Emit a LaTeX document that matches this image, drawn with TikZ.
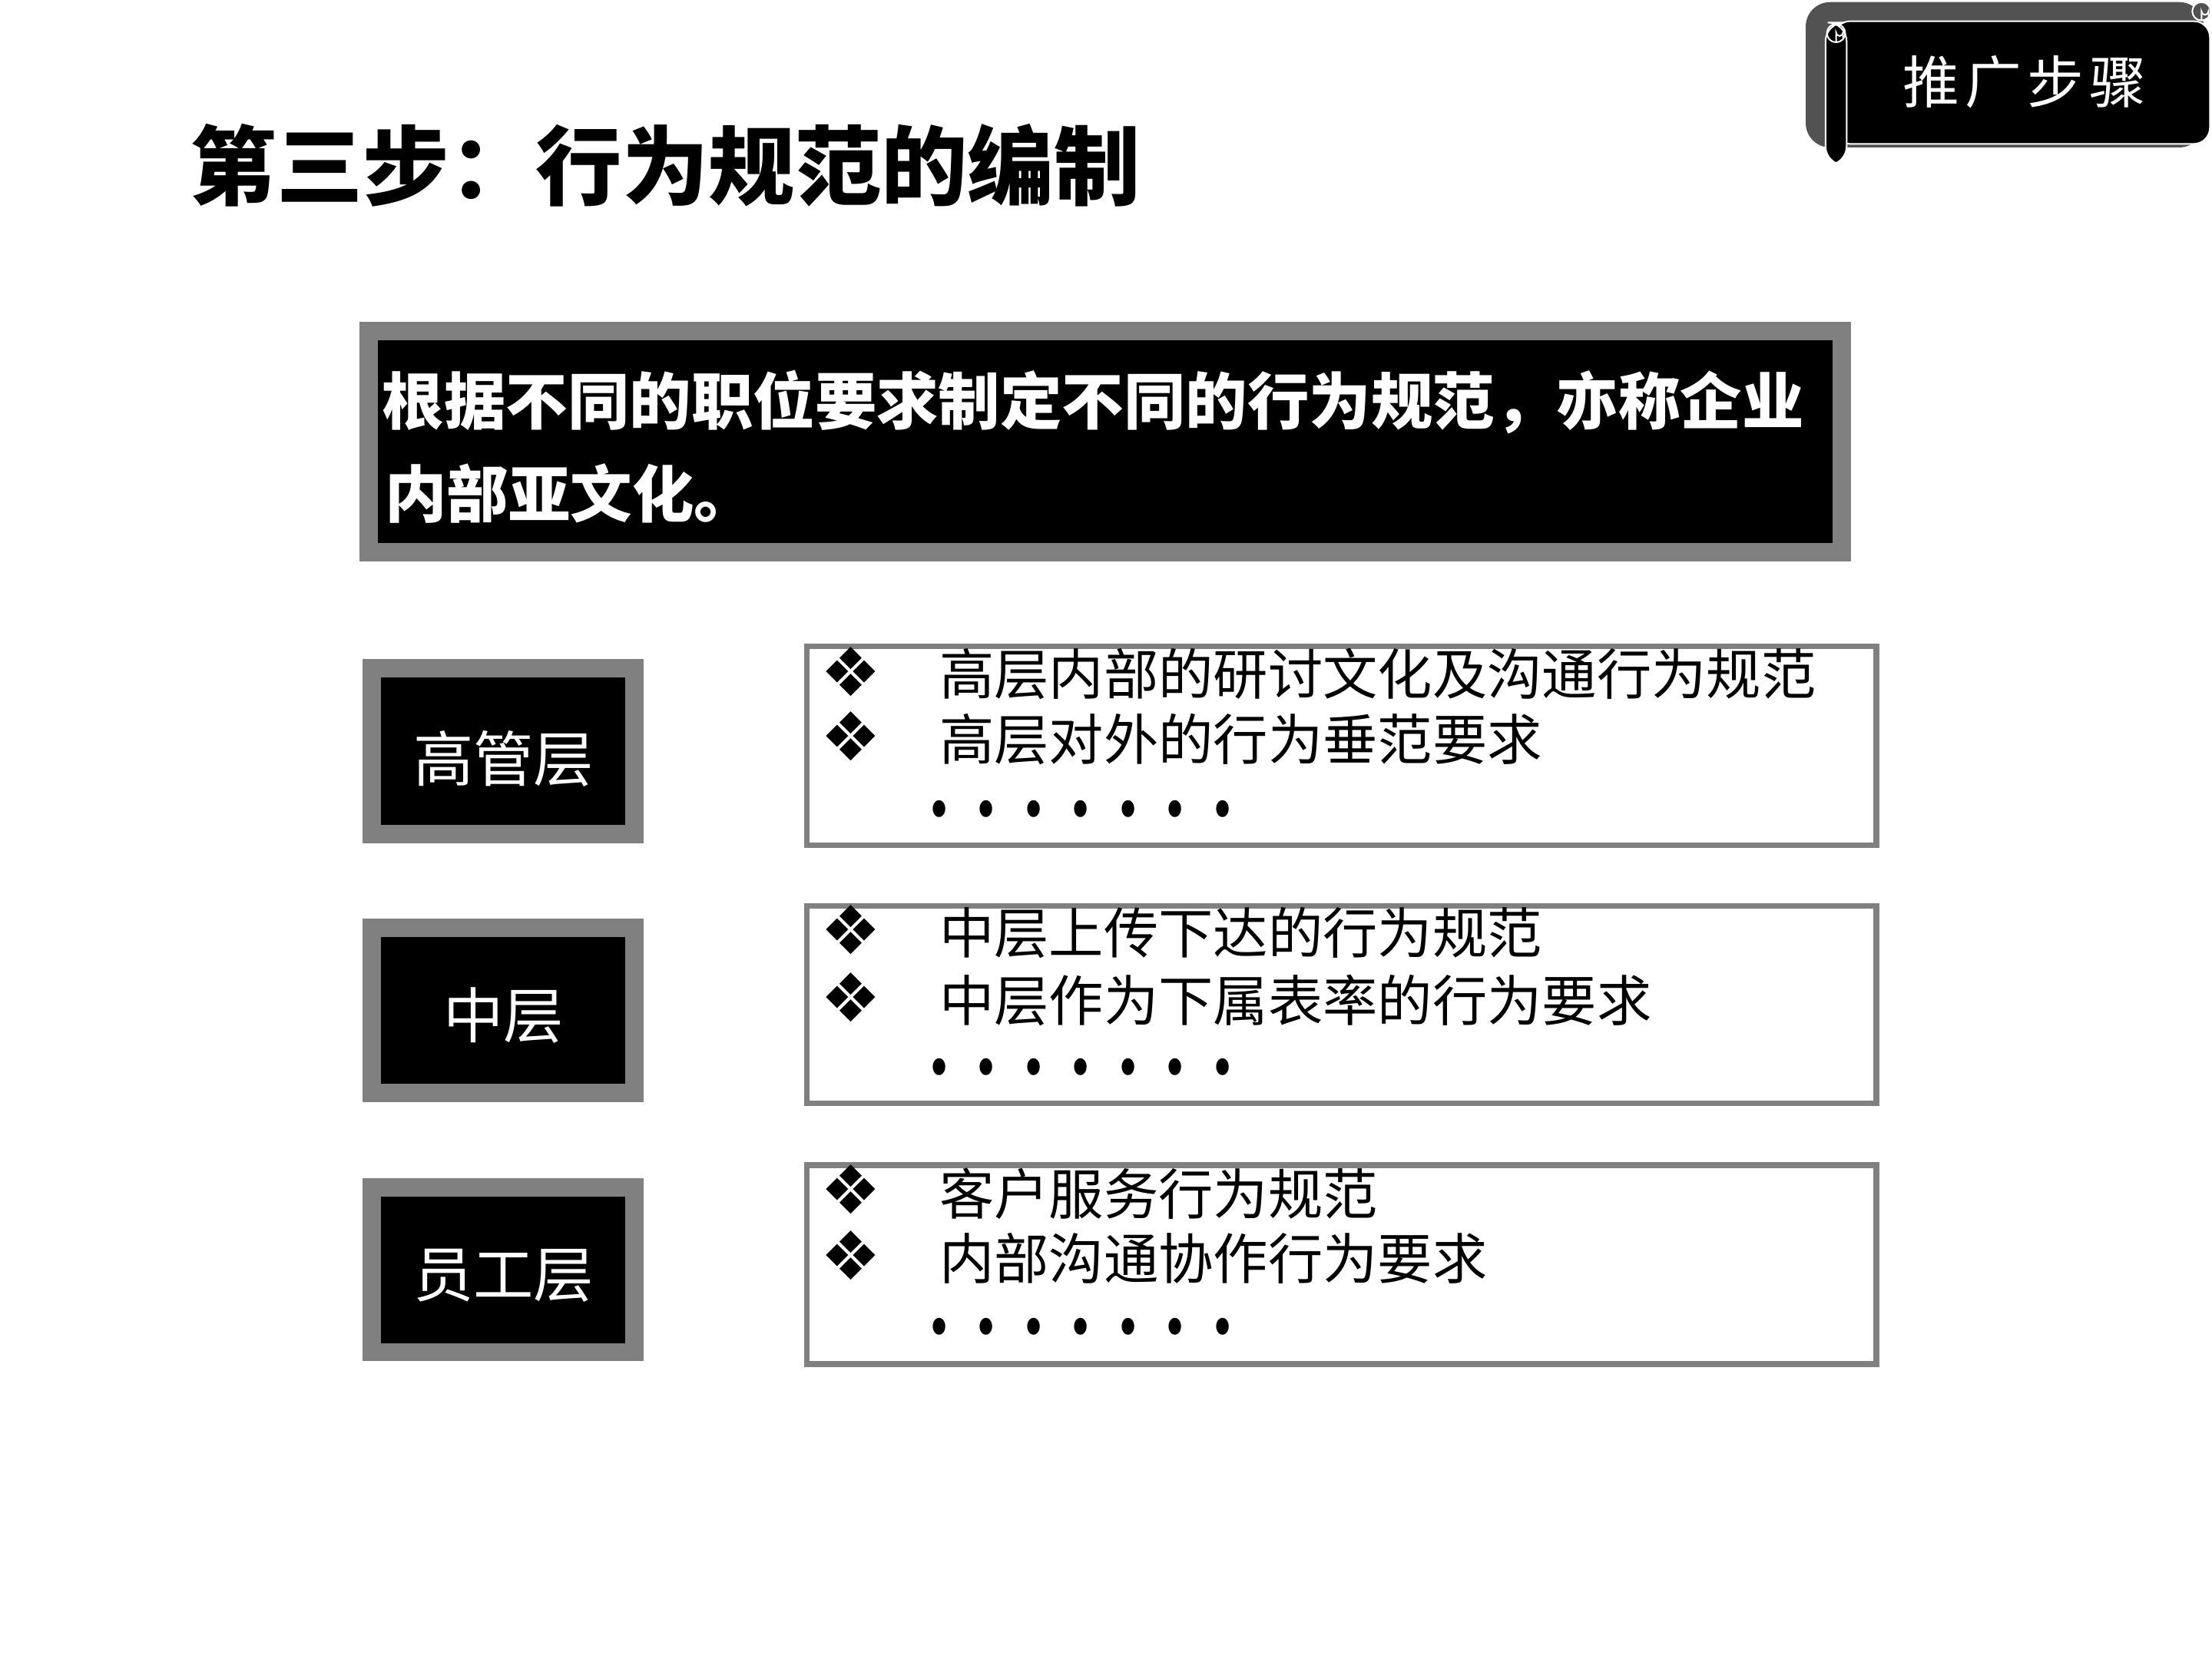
\documentclass[tikz,border=0pt]{standalone}
\usepackage{fontspec}
\setmainfont{Liberation Serif}
\newfontfamily\cjk{Noto Sans CJK SC}
\newfontfamily\symf{DejaVu Sans}
\definecolor{framegray}{RGB}{128,128,128}
\definecolor{bannergray}{RGB}{82,82,82}
\newcommand{\dotrow}{\symf\fontsize{16}{16}\selectfont\foreach \k in {1,...,7}{\makebox[17.5pt]{\scalebox{1}[1.35]{•}}}}
\newcommand{\diam}{\symf\fontsize{25}{25}\selectfont ❖}
\begin{document}
\begin{tikzpicture}[x=0.018367cm,y=-0.018367cm,
  every node/.style={inner sep=0pt,outer sep=0pt},
  titletext/.style={font=\cjk\bfseries\fontsize{32}{36}\selectfont,text=black,anchor=west},
  introtext/.style={font=\cjk\bfseries\fontsize{22.9}{26}\selectfont,text=white,anchor=west},
  leveltext/.style={font=\cjk\fontsize{22.3}{26}\selectfont,text=white},
  itemtext/.style={font=\cjk\fontsize{20.3}{24}\selectfont,text=black,anchor=west},
  bulletmark/.style={font=\diam,text=black},
  dotsline/.style={font=\dotrow,anchor=west},
  levelbox/.style={fill=black,draw=framegray,line width=0.239cm},
  itembox/.style={fill=white,draw=framegray,line width=0.0735cm},
  introbox/.style={fill=black,draw=framegray,line width=0.239cm}]
\useasboundingbox (0,0) rectangle (1568,1176);
\fill[white] (0,0) rectangle (1568,1176);

% ---- banner top right ----
\fill[bannergray,rounded corners=9] (1280,1.5) -- (1562,1.5) -- (1562,104.5) -- (1280,104.5) -- cycle;
\filldraw[fill=black,draw=white,line width=0.02cm,rounded corners=6] (1300,15) -- (1566.5,15) -- (1566.5,102) -- (1300,102) -- cycle;
\filldraw[fill=black,draw=white,line width=0.02cm,rounded corners=7] (1294,16) rectangle (1309,117);
\draw[white,line width=0.02cm] (1301.5,23.5) circle (6.5);
\draw[white,line width=0.02cm] (1301.5,30) -- (1301.5,23) arc (180:0:2.5) -- (1306.5,27);
\filldraw[fill=bannergray,draw=white,line width=0.02cm] (1560.5,8) circle (6.5);
\draw[white,line width=0.02cm] (1560.5,14.5) -- (1560.5,8) arc (180:0:2.5) -- (1565.5,11);
\node[font=\cjk\fontsize{21}{24}\selectfont,text=white] (banner) at (1435,58) {推\kern2pt 广\kern2pt 步\kern2pt 骤};

% ---- title ----
\node[titletext] (title) at (135,117) {第三步：行为规范的编制};

% ---- intro box ----
\path[introbox] (261.5,234.5) rectangle (1305.5,391.5);
\node[introtext] (intro1) at (271,285) {根据不同的职位要求制定不同的行为规范，亦称企业};
\node[introtext] (intro2) at (273,350) {内部亚文化。};

% ---- level boxes ----
\path[levelbox] (263.5,473.5) rectangle (449.5,591.5);
\node[leveltext] (lv1) at (357,538) {高管层};
\path[levelbox] (263.5,657.5) rectangle (449.5,774.5);
\node[leveltext] (lv2) at (357,720) {中层};
\path[levelbox] (263.5,841.5) rectangle (449.5,958.5);
\node[leveltext] (lv3) at (357,904) {员工层};

% ---- item boxes ----
\path[itembox] (572,458) rectangle (1330,599);
\node[bulletmark] (b11) at (603,476) {};
\node[bulletmark] (b12) at (603,522) {};
\node[itemtext] (t11) at (666,478) {高层内部的研讨文化及沟通行为规范};
\node[itemtext] (t12) at (666,524) {高层对外的行为垂范要求};
\node[dotsline] (d1) at (649,578) {};

\path[itembox] (572,642) rectangle (1330,782);
\node[bulletmark] (b21) at (603,659) {};
\node[bulletmark] (b22) at (603,707) {};
\node[itemtext] (t21) at (666,661) {中层上传下达的行为规范};
\node[itemtext] (t22) at (666,709) {中层作为下属表率的行为要求};
\node[dotsline] (d2) at (649,761) {};

\path[itembox] (572,826) rectangle (1330,967);
\node[bulletmark] (b31) at (603,843) {};
\node[bulletmark] (b32) at (603,890) {};
\node[itemtext] (t31) at (666,846) {客户服务行为规范};
\node[itemtext] (t32) at (666,892) {内部沟通协作行为要求};
\node[dotsline] (d3) at (649,945) {};
\end{tikzpicture}
\end{document}
